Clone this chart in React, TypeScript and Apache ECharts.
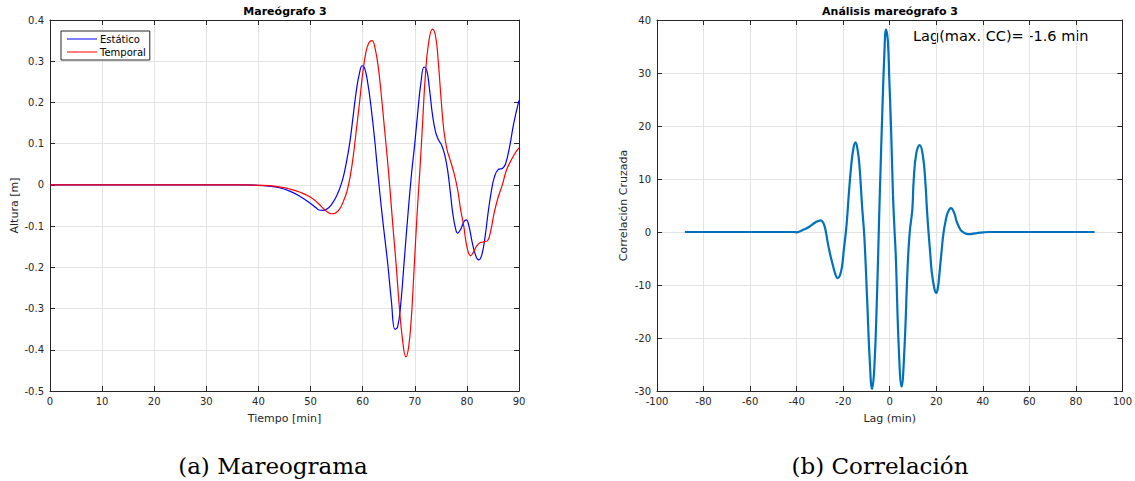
import React, { useEffect, useRef } from "react";
import * as echarts from "echarts";

// ---- Data: Mareógrafo 3 (left) ----
const tiempoEstatico = [0, 10, 20, 30, 36, 40, 42, 44, 46, 48, 50, 51, 51.6, 52.4, 53.2, 54, 54.8, 55.5, 56.2, 56.8, 57.5, 58.2, 58.8, 59.4, 59.9, 60.4, 61, 61.6, 62.3, 62.9, 63.8, 64.8, 65.5, 66.2, 66.7, 67.3, 68, 68.7, 69.4, 70, 70.6, 71.2, 71.8, 72.3, 72.8, 73.4, 74, 74.6, 75.2, 75.8, 76.3, 76.8, 77.3, 77.8, 78.2, 78.8, 79.4, 79.9, 80.4, 81, 81.7, 82.3, 82.9, 83.5, 84.1, 84.7, 85.3, 86, 86.8, 87.4, 88.2, 89, 90];
const alturaEstatico = [0, 0, 0, 0, 0, -0.001, -0.003, -0.007, -0.015, -0.028, -0.045, -0.055, -0.061, -0.062, -0.058, -0.048, -0.032, -0.012, 0.015, 0.05, 0.1, 0.17, 0.23, 0.272, 0.289, 0.282, 0.245, 0.19, 0.11, 0.03, -0.08, -0.19, -0.28, -0.35, -0.345, -0.29, -0.18, -0.07, 0.03, 0.1, 0.18, 0.25, 0.286, 0.278, 0.235, 0.17, 0.128, 0.108, 0.095, 0.07, 0.036, -0.015, -0.07, -0.105, -0.117, -0.108, -0.09, -0.085, -0.1, -0.138, -0.172, -0.182, -0.168, -0.125, -0.065, -0.015, 0.02, 0.037, 0.04, 0.05, 0.093, 0.15, 0.205];

const tiempoTemporal = [0, 10, 20, 30, 38, 40, 42, 44, 46, 48, 50, 51.5, 52.5, 53.4, 54.1, 54.8, 55.6, 56.3, 57, 57.6, 58.2, 58.8, 59.4, 60, 60.6, 61.2, 61.8, 62.4, 63, 63.6, 64.2, 64.8, 65.3, 65.8, 66.4, 67, 67.6, 68.3, 68.8, 69.3, 69.8, 70.4, 71, 71.5, 72, 72.6, 73.4, 74, 74.5, 75.1, 75.6, 76.2, 76.8, 77.5, 78.2, 78.8, 79.4, 80, 80.7, 81.3, 81.9, 82.6, 83.3, 84, 84.6, 85.2, 86, 86.8, 87.6, 88.5, 89.3, 90];
const alturaTemporal = [0, 0, 0, 0, 0, -0.001, -0.002, -0.005, -0.01, -0.018, -0.03, -0.045, -0.058, -0.067, -0.07, -0.068, -0.058, -0.04, -0.015, 0.02, 0.07, 0.135, 0.2, 0.27, 0.32, 0.345, 0.35, 0.33, 0.285, 0.215, 0.135, 0.055, -0.02, -0.1, -0.19, -0.29, -0.37, -0.417, -0.395, -0.33, -0.22, -0.08, 0.04, 0.15, 0.26, 0.34, 0.378, 0.36, 0.3, 0.2, 0.13, 0.085, 0.06, 0.03, -0.01, -0.06, -0.1, -0.15, -0.172, -0.162, -0.148, -0.14, -0.138, -0.135, -0.11, -0.07, -0.03, 0, 0.036, 0.06, 0.078, 0.09];

// ---- Data: Análisis mareógrafo 3 (right) ----
const lag = [-88, -80, -60, -45, -41, -40, -38.5, -37, -34.7, -32, -30.5, -29.7, -28.8, -28, -27.3, -26.6, -25.6, -24.7, -23.3, -22.3, -21.4, -20.5, -19.7, -18.6, -17.6, -16.6, -15.6, -14.7, -13.8, -13, -11.9, -10.9, -9.7, -8.6, -7.6, -6.6, -5.4, -4.6, -3.8, -3.3, -2.3, -1.6, -0.8, -0.2, 0.6, 1.4, 2.1, 2.6, 3.9, 5.1, 6.3, 7.7, 8.6, 9.7, 10.3, 11.4, 12.9, 14.3, 15.3, 16, 16.7, 17.4, 18.1, 19.2, 20, 20.7, 21.4, 22.3, 23.1, 24.1, 24.9, 26.3, 27.7, 28.6, 29.6, 30.6, 31.7, 33, 34.6, 36, 37.4, 40.3, 43, 50, 60, 80, 88];
const correlacion = [0, 0, 0, 0, 0, -0.06, 0.15, 0.45, 0.94, 1.8, 2.1, 2.2, 1.9, 1.1, -0.3, -2.1, -4.2, -5.8, -8.05, -8.7, -8.2, -6.5, -3.3, 1.1, 7, 12.3, 15.8, 16.9, 15.5, 12.5, 5, -1, -12.8, -24.1, -29.6, -25.5, -11, 2, 14, 21.1, 33.7, 38.2, 36, 29, 19.2, 7, 0, -4.5, -22, -29.2, -22.2, -6.5, 0, 4.2, 9.8, 14.8, 16.4, 14.2, 9.5, 4.2, -0.2, -4, -7.7, -10.7, -11.5, -10.5, -7.7, -3.5, -0.2, 2.3, 3.6, 4.5, 3.6, 2.2, 1.1, 0.3, -0.06, -0.35, -0.4, -0.3, -0.2, -0.06, 0, 0, 0, 0, 0];

const FONT = "DejaVu Sans";
const AX = "#262626";
const GRID = "#e3e3e3";
const LINE_ICON = "path://M0,0 L0.01,0 L0.01,10 L0,10 Z M0,4.4 L30,4.4 L30,5.6 L0,5.6 Z";

const zip = (xs: number[], ys: number[]) => xs.map((x, i) => [x, ys[i]]);

function mkX(gridIndex: number, min: number, max: number, interval: number, name: string, decimals: number) {
  return [
    {
      type: "value", gridIndex, min, max, interval, position: "bottom",
      name, nameLocation: "middle", nameGap: 22,
      nameTextStyle: { fontFamily: FONT, fontSize: 11, color: AX },
      axisLine: { show: true, onZero: false, lineStyle: { color: AX, width: 1 } },
      axisTick: { show: true, inside: true, length: 5, lineStyle: { color: AX } },
      axisLabel: { fontFamily: FONT, fontSize: 10, color: AX, margin: 5, formatter: (v: number) => String(+v.toFixed(decimals)) },
      splitLine: { show: true, lineStyle: { color: GRID, width: 1 } },
    },
    {
      type: "value", gridIndex, min, max, interval, position: "top",
      axisLine: { show: true, onZero: false, lineStyle: { color: AX, width: 1 } },
      axisTick: { show: true, inside: true, length: 5, lineStyle: { color: AX } },
      axisLabel: { show: false },
      splitLine: { show: false },
    },
  ];
}

function mkY(gridIndex: number, min: number, max: number, interval: number, name: string, decimals: number, gap: number) {
  return [
    {
      type: "value", gridIndex, min, max, interval, position: "left",
      name, nameLocation: "middle", nameGap: gap,
      nameTextStyle: { fontFamily: FONT, fontSize: 11, color: AX },
      axisLine: { show: true, onZero: false, lineStyle: { color: AX, width: 1 } },
      axisTick: { show: true, inside: true, length: 5, lineStyle: { color: AX } },
      axisLabel: { fontFamily: FONT, fontSize: 10, color: AX, margin: 6, formatter: (v: number) => String(+v.toFixed(decimals)) },
      splitLine: { show: true, lineStyle: { color: GRID, width: 1 } },
    },
    {
      type: "value", gridIndex, min, max, interval, position: "right",
      axisLine: { show: true, onZero: false, lineStyle: { color: AX, width: 1 } },
      axisTick: { show: true, inside: true, length: 5, lineStyle: { color: AX } },
      axisLabel: { show: false },
      splitLine: { show: false },
    },
  ];
}

export default function App() {
  const ref = useRef<HTMLDivElement>(null);
  useEffect(() => {
    if (!ref.current) return;
    const chart = echarts.init(ref.current, null, { renderer: "svg" });
    chart.setOption({
      animation: false,
      backgroundColor: "#ffffff",
      grid: [
        { left: 50, top: 20, width: 469, height: 371, containLabel: false },
        { left: 657, top: 20, width: 466, height: 371, containLabel: false },
      ],
      xAxis: [...mkX(0, 0, 90, 10, "Tiempo [min]", 0), ...mkX(1, -100, 100, 20, "Lag (min)", 0)],
      yAxis: [...mkY(0, -0.5, 0.4, 0.1, "Altura [m]", 1, 30), ...mkY(1, -30, 40, 10, "Correlación Cruzada", 0, 28)],
      legend: {
        data: ["Estático", "Temporal"],
        left: 61, top: 31, orient: "vertical",
        icon: LINE_ICON,
        itemWidth: 32, itemHeight: 10, itemGap: 3,
        padding: [3, 4, 3, 6],
        borderColor: AX, borderWidth: 1, borderRadius: 0,
        backgroundColor: "#ffffff",
        textStyle: { fontFamily: FONT, fontSize: 10, color: "#000", padding: [0, 0, 0, -3] },
      },
      series: [
        {
          name: "Estático", type: "line", xAxisIndex: 0, yAxisIndex: 0,
          data: zip(tiempoEstatico, alturaEstatico),
          symbol: "none", smooth: 0.45,
          lineStyle: { color: "#0000ff", width: 1.2 }, itemStyle: { color: "#0000ff" },
        },
        {
          name: "Temporal", type: "line", xAxisIndex: 0, yAxisIndex: 0,
          data: zip(tiempoTemporal, alturaTemporal),
          symbol: "none", smooth: 0.45,
          lineStyle: { color: "#ff0000", width: 1.2 }, itemStyle: { color: "#ff0000" },
        },
        {
          name: "CC", type: "line", xAxisIndex: 2, yAxisIndex: 2,
          data: zip(lag, correlacion),
          symbol: "none", smooth: 0.45,
          lineStyle: { color: "#0072bd", width: 2.2 }, itemStyle: { color: "#0072bd" },
        },
      ],
      graphic: [
        { type: "text", x: 285, y: 11, style: { text: "Mareógrafo 3", fontFamily: FONT, fontSize: 11, fontWeight: "bold", fill: "#000", align: "center", verticalAlign: "middle" } },
        { type: "text", x: 890, y: 11, style: { text: "Análisis mareógrafo 3", fontFamily: FONT, fontSize: 11, fontWeight: "bold", fill: "#000", align: "center", verticalAlign: "middle" } },
        { type: "text", x: 913, y: 36, style: { text: "Lag(max. CC)= -1.6 min", fontFamily: FONT, fontSize: 14.5, fill: "#000", align: "left", verticalAlign: "middle" } },
        { type: "text", x: 273, y: 466, style: { text: "(a) Mareograma", fontFamily: "DejaVu Serif", fontSize: 23, fill: "#000", align: "center", verticalAlign: "middle" } },
        { type: "text", x: 880, y: 466, style: { text: "(b) Correlación", fontFamily: "DejaVu Serif", fontSize: 23, fill: "#000", align: "center", verticalAlign: "middle" } },
      ],
    });
    return () => chart.dispose();
  }, []);
  return <div ref={ref} style={{ position: "fixed", left: 0, top: 0, width: 1135, height: 481, background: "#fff" }} />;
}
